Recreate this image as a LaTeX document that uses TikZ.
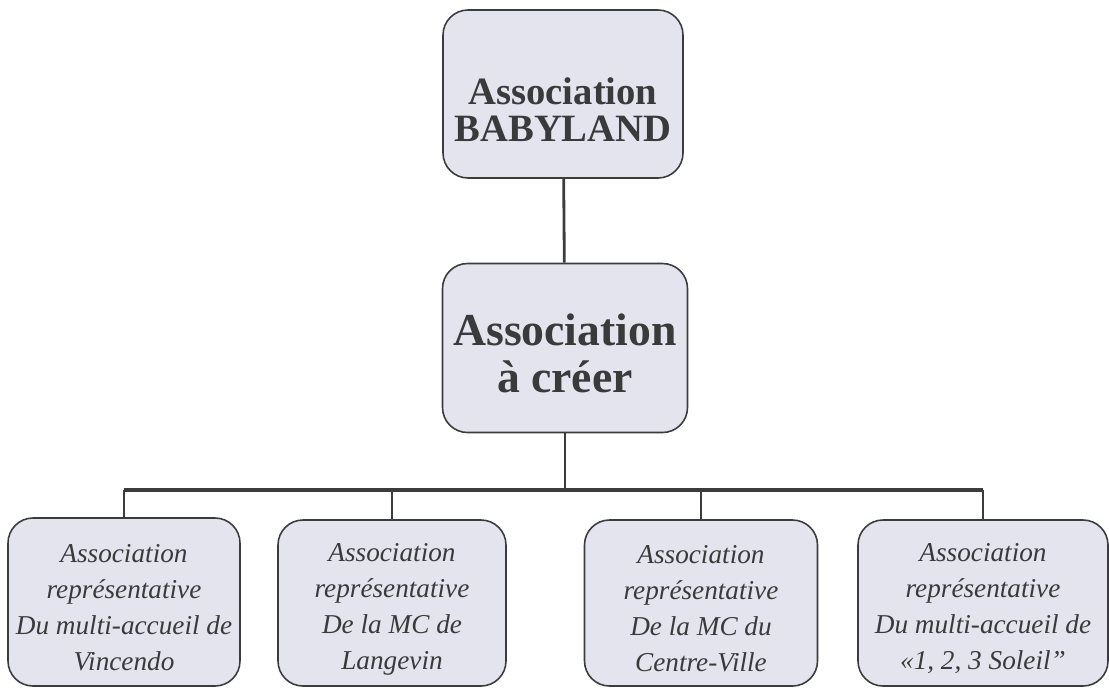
\documentclass[tikz,border=0pt]{standalone}
\usepackage{fontspec}
\setmainfont{Liberation Serif}
\definecolor{boxfill}{HTML}{E4E4EE}
\definecolor{boxedge}{HTML}{3C3C3C}
\definecolor{txt}{HTML}{3A3A3A}
\newcommand{\lift}[1]{\rule{0pt}{#1}}
\tikzset{
  orgbox/.style={draw=boxedge, line width=0.9pt, fill=boxfill, rounded corners=0.5cm,
    align=center, text=txt, inner sep=0pt},
  topbox/.style={orgbox, font=\bfseries\fontsize{22}{21}\selectfont},
  midbox/.style={orgbox, font=\bfseries\fontsize{26}{27}\selectfont},
  subbox/.style={orgbox, font=\itshape\fontsize{15.5}{20.5}\selectfont},
  link/.style={draw=boxedge, line width=1.6pt}
}
\begin{document}
\begin{tikzpicture}[x=0.02cm, y=-0.02cm]
    \useasboundingbox (0,0) rectangle (1109,687);
    \node[topbox, minimum width={240*0.02cm}, minimum height={168*0.02cm}] (babyland) at (563,94)
        {\lift{1.15cm}Association\\BABYLAND};
    \node[midbox, minimum width={245*0.02cm}, minimum height={169*0.02cm}] (nouvelle) at (565,348)
        {\lift{0.84cm}Association\\à créer};
    \node[subbox, minimum width={232*0.02cm}, minimum height={168*0.02cm}] (vincendo) at (124,602)
        {\lift{0.6cm}Association\\représentative\\Du multi-accueil de\\Vincendo};
    \node[subbox, minimum width={228*0.02cm}, minimum height={166*0.02cm}] (langevin) at (392,603)
        {\lift{0.6cm}Association\\représentative\\De la MC de\\Langevin};
    \node[subbox, minimum width={233*0.02cm}, minimum height={166*0.02cm}] (centre) at (701,603)
        {\lift{0.6cm}Association\\représentative\\De la MC du\\Centre-Ville};
    \node[subbox, minimum width={250*0.02cm}, minimum height={166*0.02cm}] (soleil) at (983,603)
        {\lift{0.6cm}Association\\représentative\\Du multi-accueil de\\«1, 2, 3 Soleil''};
    \coordinate (bar) at (565,490);
    % links
    \draw[link] (babyland) -- (nouvelle);
    \draw[link] (nouvelle) -- (bar);
    \draw[link, line width=2.4pt] (vincendo |- bar) -- (soleil |- bar);
    \foreach \b in {vincendo, langevin, centre, soleil}
        \draw[link] (\b |- bar) -- (\b);
\end{tikzpicture}
\end{document}
